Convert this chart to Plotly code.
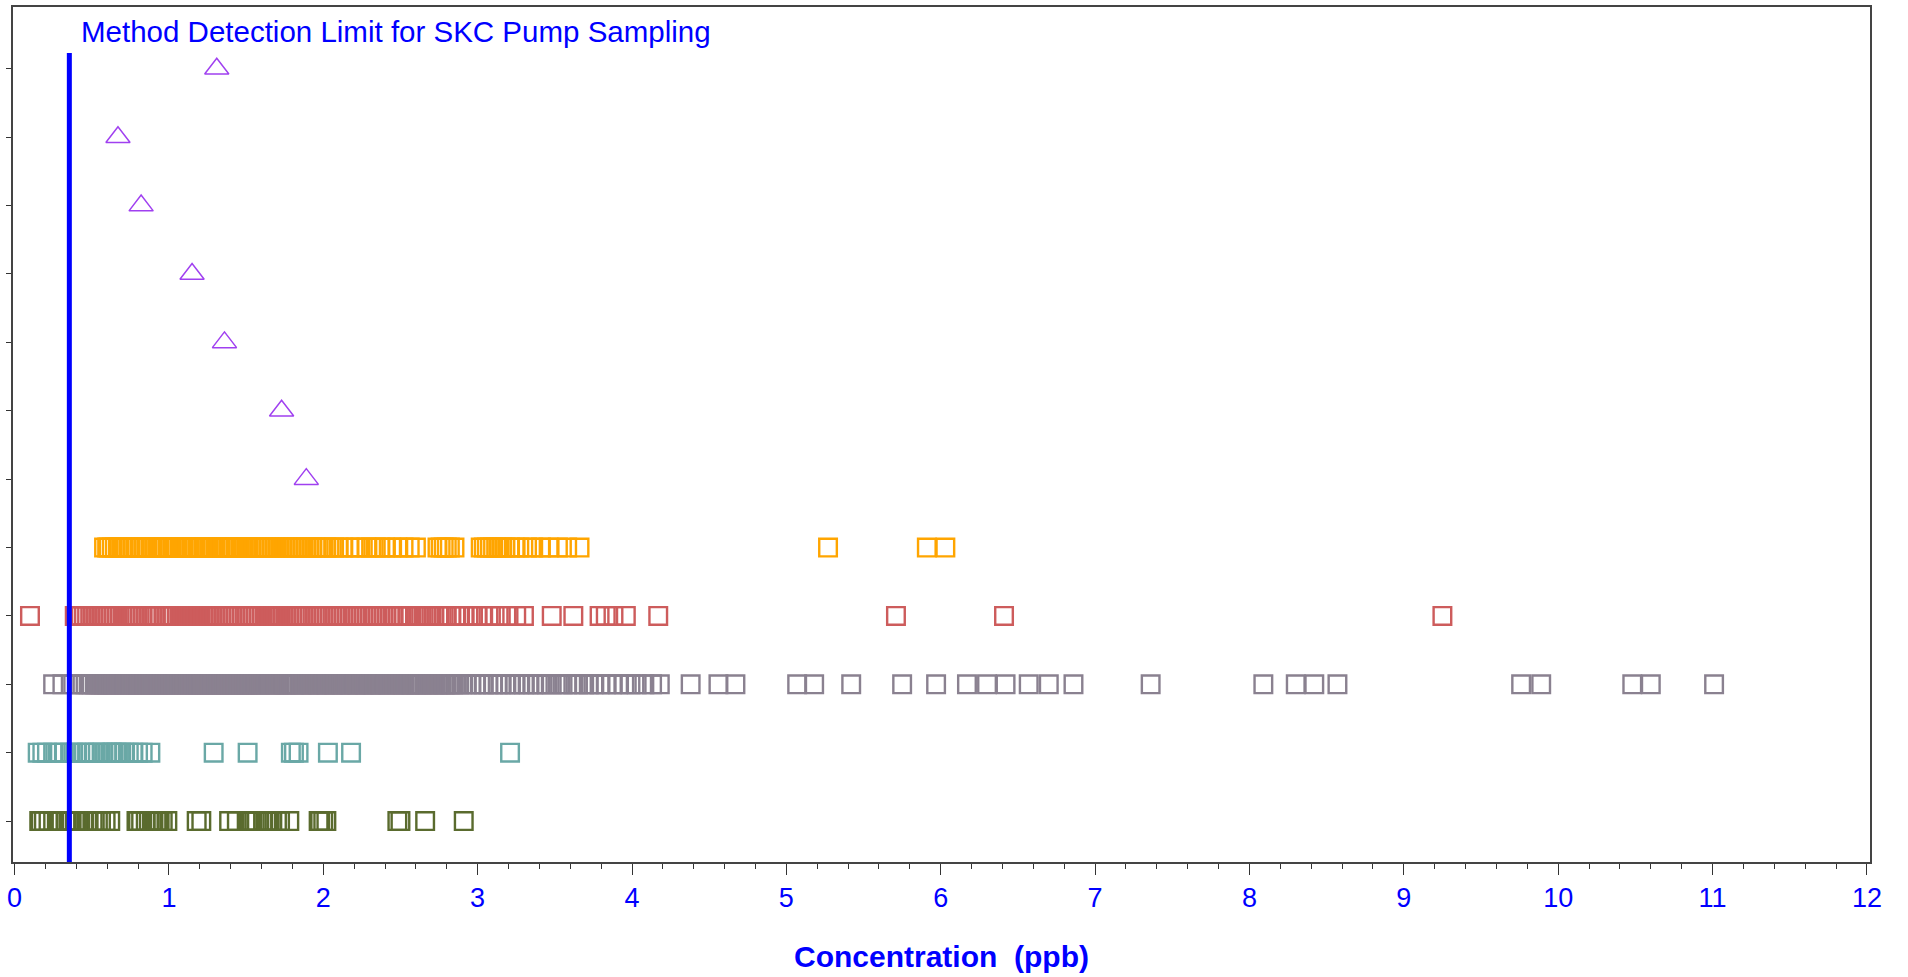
import plotly.graph_objects as go

# ---------------- data (ppb) ----------------
row_ids = [1, 2, 3, 4, 5, 6, 7, 8, 9, 10, 11, 12]
mdl_value = 0.355
mdl_label = "Method Detection Limit for SKC Pump Sampling"
x_title = "Concentration  (ppb)"
x_tick_vals = [0, 1, 2, 3, 4, 5, 6, 7, 8, 9, 10, 11, 12]

# single-point rows (rows 12 .. 6, top to bottom)
triangle_rows = [12, 11, 10, 9, 8, 7, 6]
triangle_vals = [1.31, 0.67, 0.82, 1.15, 1.36, 1.73, 1.89]

orange_vals = [
    0.58, 0.60, 0.61, 0.63, 0.65, 0.67, 0.68, 0.70, 0.72, 0.74, 0.75, 0.77, 0.79, 0.81,
    0.82, 0.84, 0.86, 0.88, 0.89, 0.91, 0.93, 0.94, 0.96, 0.97, 0.99, 1.00, 1.01, 1.03,
    1.04, 1.05, 1.07, 1.08, 1.09, 1.11, 1.12, 1.13, 1.15, 1.16, 1.17, 1.19, 1.20, 1.21,
    1.23, 1.24, 1.25, 1.27, 1.30, 1.32, 1.33, 1.35, 1.36, 1.37, 1.39, 1.40, 1.41, 1.43,
    1.44, 1.45, 1.47, 1.48, 1.50, 1.51, 1.53, 1.55, 1.57, 1.59, 1.61, 1.63, 1.65, 1.67,
    1.69, 1.71, 1.73, 1.75, 1.77, 1.79, 1.81, 1.83, 1.85, 1.87, 1.89, 1.91, 1.93, 1.95,
    1.97, 2.00, 2.02, 2.04, 2.07, 2.10, 2.13, 2.17, 2.21, 2.24, 2.28, 2.31, 2.34, 2.37,
    2.40, 2.44, 2.48, 2.52, 2.56, 2.60,
    2.74, 2.76, 2.78, 2.80, 2.82, 2.85,
    3.02, 3.04, 3.06, 3.08, 3.10, 3.12, 3.14, 3.16, 3.18, 3.21, 3.24, 3.27, 3.32, 3.36,
    3.41, 3.46, 3.52, 3.58, 3.66,
    5.27, 5.91, 6.03,
]

red_vals = [
    0.10,
    0.39, 0.41, 0.43, 0.45, 0.47, 0.49, 0.51, 0.53, 0.55, 0.57, 0.60, 0.62, 0.64, 0.66,
    0.68, 0.70, 0.72, 0.74, 0.76, 0.78, 0.81, 0.83, 0.85, 0.87, 0.89, 0.91, 0.94, 0.97,
    0.99, 1.01, 1.03, 1.05, 1.07, 1.09, 1.10, 1.11, 1.12, 1.13, 1.14, 1.15, 1.16, 1.17,
    1.18, 1.19, 1.20, 1.22, 1.24, 1.26, 1.28, 1.30, 1.32, 1.34, 1.36, 1.39, 1.41, 1.43,
    1.45, 1.47, 1.49, 1.52, 1.54, 1.56, 1.58, 1.60, 1.62, 1.64, 1.65, 1.66, 1.67, 1.68,
    1.69, 1.70, 1.71, 1.72, 1.74, 1.76, 1.78, 1.80, 1.83, 1.85, 1.87, 1.89, 1.91, 1.93,
    1.96, 1.98, 2.00, 2.02, 2.04, 2.06, 2.09, 2.11, 2.13, 2.15, 2.17, 2.19, 2.22, 2.24,
    2.26, 2.28, 2.30, 2.32, 2.35, 2.37, 2.39, 2.41, 2.43, 2.45, 2.48, 2.50, 2.52, 2.55,
    2.57, 2.60, 2.62, 2.65, 2.67, 2.70, 2.72, 2.75, 2.78, 2.80, 2.83, 2.86, 2.88, 2.91,
    2.94, 2.97, 3.00, 3.03, 3.07, 3.11, 3.15, 3.20, 3.25, 3.30,
    3.48, 3.62, 3.79, 3.83, 3.88, 3.96, 4.17, 5.71, 6.41, 9.25,
]

gray_vals = [
    0.25, 0.31, 0.38, 0.41, 0.44, 0.46, 0.48, 0.50,
    0.52, 0.53, 0.54, 0.55, 0.56, 0.57, 0.58, 0.59, 0.60, 0.61, 0.62, 0.63, 0.64, 0.65,
    0.66, 0.68, 0.69, 0.70, 0.71, 0.72, 0.73, 0.74, 0.75, 0.76, 0.77, 0.78, 0.79, 0.80,
    0.81, 0.82, 0.83, 0.84, 0.85, 0.86, 0.87, 0.88, 0.89, 0.90, 0.91, 0.92, 0.93, 0.94,
    0.95, 0.96, 0.97, 0.98, 0.99, 1.00, 1.01, 1.02, 1.03, 1.04, 1.05, 1.07, 1.08, 1.09,
    1.10, 1.11, 1.12, 1.13, 1.14, 1.15, 1.16, 1.17, 1.18, 1.19, 1.20, 1.21, 1.22, 1.23,
    1.24, 1.25, 1.26, 1.27, 1.28, 1.29, 1.30, 1.31, 1.32, 1.33, 1.34, 1.35, 1.36, 1.37,
    1.38, 1.39, 1.40, 1.41, 1.42, 1.43, 1.44, 1.45, 1.46, 1.47, 1.48, 1.49, 1.50, 1.51,
    1.52, 1.53, 1.54, 1.55, 1.56, 1.57, 1.58, 1.59, 1.60, 1.61, 1.63,
    1.65, 1.66, 1.67, 1.68, 1.69, 1.70, 1.71, 1.73, 1.74, 1.75, 1.76, 1.77, 1.78, 1.80,
    1.81, 1.82, 1.83, 1.85, 1.86, 1.87, 1.88, 1.90, 1.91, 1.92, 1.93, 1.95, 1.96, 1.97,
    1.98, 2.00, 2.01, 2.02, 2.03, 2.05, 2.06, 2.07, 2.08, 2.10, 2.11, 2.12, 2.13, 2.15,
    2.16, 2.17, 2.18, 2.20, 2.21, 2.22, 2.23, 2.25, 2.26, 2.27, 2.28, 2.30, 2.31, 2.32,
    2.33, 2.35, 2.36, 2.37, 2.38, 2.40, 2.41, 2.42, 2.43, 2.45, 2.46, 2.48, 2.49, 2.50,
    2.51, 2.52, 2.54, 2.55, 2.56, 2.57, 2.58, 2.60, 2.61, 2.62, 2.63, 2.64, 2.66, 2.67,
    2.68, 2.70, 2.71, 2.72, 2.74, 2.75, 2.76, 2.78, 2.79, 2.80, 2.82, 2.83, 2.84, 2.86,
    2.88, 2.90,
    2.93, 2.96, 2.99, 3.02, 3.04, 3.07, 3.10, 3.13, 3.15, 3.18, 3.21, 3.24, 3.27, 3.30,
    3.33, 3.36, 3.39, 3.42, 3.45, 3.48, 3.52, 3.55, 3.58, 3.62, 3.65, 3.69, 3.72, 3.75,
    3.79, 3.83, 3.87, 3.91, 3.95, 3.99, 4.03, 4.08, 4.13, 4.18,
    4.38, 4.56, 4.67, 5.07, 5.18, 5.42, 5.75, 5.97, 6.17, 6.30, 6.42, 6.57, 6.70, 6.86,
    7.36, 8.09, 8.30, 8.42, 8.57, 9.76, 9.89, 10.48, 10.60, 11.01,
]

teal_vals = [
    0.15, 0.18, 0.21, 0.25, 0.28, 0.32, 0.36, 0.38, 0.40, 0.45, 0.47, 0.49, 0.52, 0.54,
    0.57, 0.60, 0.62, 0.63, 0.64, 0.66, 0.67, 0.69, 0.71, 0.74, 0.77, 0.80, 0.83, 0.88,
    1.29, 1.51, 1.79, 1.81, 1.84, 2.03, 2.18, 3.21,
]

olive_vals = [
    0.16, 0.17, 0.19, 0.22, 0.25, 0.28, 0.29, 0.30, 0.33, 0.35, 0.36, 0.37, 0.39, 0.40,
    0.42, 0.45, 0.47, 0.48, 0.52, 0.54, 0.56, 0.59, 0.62,
    0.79, 0.80, 0.82, 0.85, 0.87, 0.89, 0.90, 0.92, 0.93, 0.94, 0.96, 0.99,
    1.18, 1.21,
    1.39, 1.44, 1.51, 1.52, 1.53, 1.54, 1.57, 1.61, 1.63, 1.64, 1.65, 1.67, 1.70, 1.72, 1.78,
    1.97, 1.98, 2.00, 2.02, 2.48, 2.50, 2.66, 2.91,
]

square_series = [
    ("olive", 1, olive_vals, "#5A6B2E"),
    ("teal", 2, teal_vals, "#6AA8A6"),
    ("gray", 3, gray_vals, "#8A8190"),
    ("red", 4, red_vals, "#CD5C5C"),
    ("orange", 5, orange_vals, "#FFA500"),
]

# ---------------- figure ----------------
fig = go.Figure()

for name, row, vals, color in square_series:
    fig.add_trace(go.Scatter(
        x=vals, y=[row] * len(vals), mode="markers", name=name,
        marker=dict(symbol="square-open", size=17.6, color=color,
                    line=dict(color=color, width=2.4)),
        hoverinfo="skip", showlegend=False,
    ))

fig.add_trace(go.Scatter(
    x=triangle_vals, y=triangle_rows, mode="markers", name="triangles",
    marker=dict(symbol="triangle-up-open", size=21, color="#A040F0",
                line=dict(color="#A040F0", width=1.5)),
    hoverinfo="skip", showlegend=False,
))

# detection-limit reference line
fig.add_shape(type="line", xref="x", yref="y", x0=mdl_value, x1=mdl_value,
              y0=0.402, y1=12.23, line=dict(color="#0000FF", width=5), layer="above")
fig.add_annotation(x=0.42, y=12.55, xref="x", yref="y", text=mdl_label,
                   showarrow=False, xanchor="left", yanchor="middle",
                   font=dict(family="Liberation Sans, Arial", size=29.5, color="#0000FF"))

fig.add_annotation(x=0.5, y=-0.111, xref="paper", yref="paper", text="<b>" + x_title + "</b>",
                   showarrow=False, xanchor="center", yanchor="middle",
                   font=dict(family="Liberation Sans, Arial", size=30, color="#0000FF"))

fig.update_xaxes(
    range=[-0.01, 12.02], tickvals=x_tick_vals, ticktext=[str(v) for v in x_tick_vals],
    ticks="outside", ticklen=11, tickwidth=1, tickcolor="#333",
    minor=dict(dtick=0.2, ticks="outside", ticklen=5, tickwidth=1, tickcolor="#333"),
    showline=True, linecolor="#444", linewidth=2, mirror=True,
    showgrid=False, zeroline=False,
    tickfont=dict(family="Liberation Sans, Arial", size=27, color="#0000FF"),
)
fig.update_yaxes(
    range=[0.402, 12.904], tickvals=row_ids, ticktext=[""] * len(row_ids),
    ticks="outside", ticklen=5, tickwidth=1, tickcolor="#333",
    showline=True, linecolor="#444", linewidth=2, mirror=True,
    showgrid=False, zeroline=False,
)

fig.update_layout(
    width=1908, height=977,
    margin=dict(l=13, r=38, t=5, b=115),
    paper_bgcolor="white", plot_bgcolor="white",
    font=dict(family="Liberation Sans, Arial"),
)

fig.write_html("out.html", config={"displayModeBar": False},
               post_script="document.body.style.margin='0';document.body.style.overflow='hidden';")
